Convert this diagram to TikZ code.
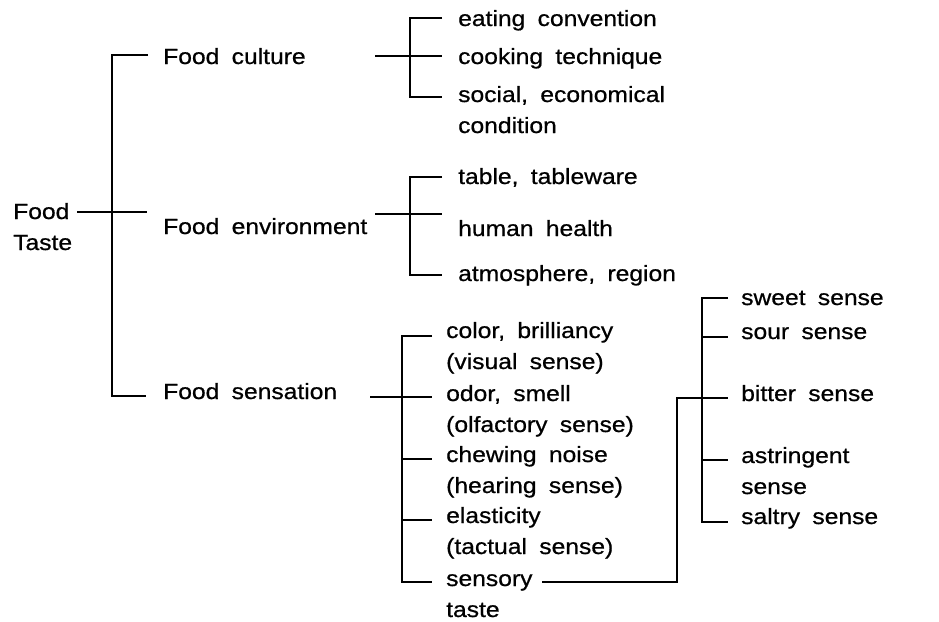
\documentclass[tikz,border=0pt]{standalone}
\usepackage{fontspec}
\setmainfont{Liberation Sans}[FakeStretch=1.12,WordSpace=1.8,FakeBold=0.7]

\begin{document}
\begin{tikzpicture}[x=1pt, y=-1pt,
    entry/.style={anchor=base west, inner sep=0pt, align=left, font=\fontsize{22}{31}\selectfont},
    link/.style={line width=1.6pt}
]
\useasboundingbox (0,0) rectangle (939,621);

% texts (base = baseline of the last line)
\node[entry] (food) at (13,250) {Food\\Taste};
\node[entry] (cul) at (163,64) {Food culture};
\node[entry] (env) at (163,234) {Food environment};
\node[entry] (sen) at (163,399) {Food sensation};

\node[entry] (eat) at (458,26) {eating convention};
\node[entry] (cook) at (458,64) {cooking technique};
\node[entry] (soc) at (458,133) {social, economical\\condition};

\node[entry] (tab) at (458,184) {table, tableware};
\node[entry] (hum) at (458,236) {human health};
\node[entry] (atm) at (458,281) {atmosphere, region};

\node[entry] (col) at (446,369) {color, brilliancy\\(visual sense)};
\node[entry] (odo) at (446,432) {odor, smell\\(olfactory sense)};
\node[entry] (che) at (446,493) {chewing noise\\(hearing sense)};
\node[entry] (ela) at (446,554) {elasticity\\(tactual sense)};
\node[entry] (sty) at (446,617) {sensory\\taste};

\node[entry] (swe) at (741,305) {sweet sense};
\node[entry] (sou) at (741,339) {sour sense};
\node[entry] (bit) at (741,401) {bitter sense};
\node[entry] (ast) at (741,494) {astringent\\sense};
\node[entry] (sal) at (741,524) {saltry sense};

% junctions and line ends
\coordinate (root) at (112,212);
\coordinate (cultip) at (148,55);
\coordinate (envtip) at (147,212);
\coordinate (sentip) at (146,396);

\coordinate (culin) at (375,56);
\coordinate (culhub) at (410,56);
\coordinate (eattip) at (442,18);
\coordinate (cooktip) at (442,56);
\coordinate (soctip) at (442,97);

\coordinate (envin) at (375,214);
\coordinate (envhub) at (410,214);
\coordinate (tabtip) at (442,177);
\coordinate (humtip) at (442,214);
\coordinate (atmtip) at (442,275);

\coordinate (senin) at (370,397);
\coordinate (senhub) at (402,397);
\coordinate (coltip) at (432,336);
\coordinate (odotip) at (432,397);
\coordinate (chetip) at (432,459);
\coordinate (elatip) at (432,520);
\coordinate (stytip) at (432,582);

\coordinate (styout) at (542,582);
\coordinate (bend) at (677,398);
\coordinate (tashub) at (702,398);
\coordinate (swetip) at (728,298);
\coordinate (soutip) at (728,337);
\coordinate (bittip) at (728,398);
\coordinate (asttip) at (728,460);
\coordinate (saltip) at (728,522);

% food taste
\draw[link] ([xshift=5pt]food.east |- root) -- (envtip);
\draw[link] (cultip) -| (root) |- (sentip);

% food culture
\draw[link] (culin) -- (cooktip);
\draw[link] (eattip) -| (culhub) |- (soctip);

% food environment
\draw[link] (envin) -- (humtip);
\draw[link] (tabtip) -| (envhub) |- (atmtip);

% food sensation
\draw[link] (senin) -- (odotip);
\draw[link] (coltip) -| (senhub) |- (stytip);
\draw[link] (senhub |- chetip) -- (chetip);
\draw[link] (senhub |- elatip) -- (elatip);

% sensory taste
\draw[link] (styout) -| (bend) -- (bittip);
\draw[link] (swetip) -| (tashub) |- (saltip);
\draw[link] (tashub |- soutip) -- (soutip);
\draw[link] (tashub |- asttip) -- (asttip);
\end{tikzpicture}
\end{document}
